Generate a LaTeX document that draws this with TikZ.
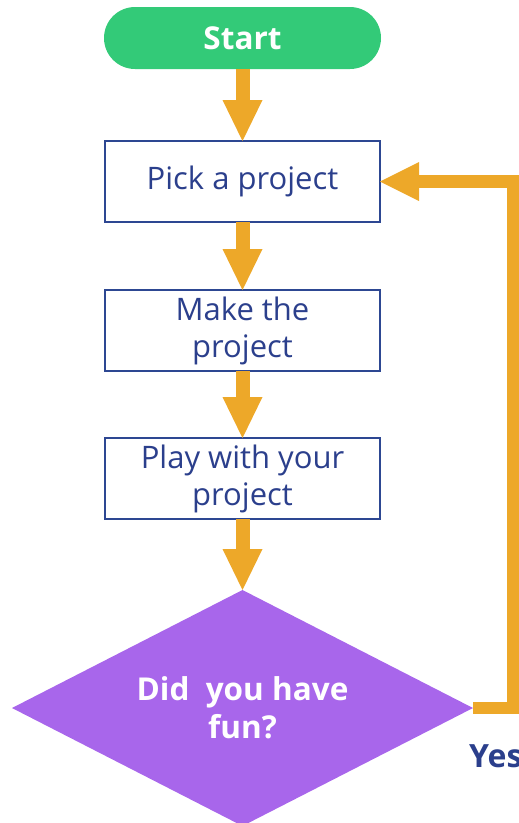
\documentclass[tikz,border=0pt]{standalone}
\usepackage{fontspec}
\setmainfont{Open Sans}
\usepackage{xcolor}
\usepackage{tikz}
\usetikzlibrary{shapes.geometric, arrows.meta, positioning}

\definecolor{startgreen}{HTML}{33CA78}
\definecolor{funpurple}{HTML}{A866EB}
\definecolor{arroworange}{HTML}{EDA829}
\definecolor{boxblue}{HTML}{2D4792}
\definecolor{textblue}{HTML}{2B3F8C}

\begin{document}
\begin{tikzpicture}[x=1pt, y=1pt,
  terminal/.style={rectangle, rounded corners=31pt, fill=startgreen, text=white, font=\fontsize{31.5}{38}\selectfont\bfseries, minimum width=277pt, minimum height=62pt, inner sep=0pt, outer sep=0pt},
  process/.style={rectangle, draw=boxblue, line width=2pt, text=textblue, font=\fontsize{31}{37}\selectfont, align=center, minimum width=275pt, minimum height=81pt, inner sep=0pt, outer sep=0pt},
  decision/.style={diamond, aspect=2, fill=funpurple, text=white, font=\fontsize{31.5}{38}\selectfont\bfseries, align=center, minimum width=461pt, minimum height=236pt, inner sep=0pt, outer sep=0pt},
  flowarrow/.style={arroworange, line width=14pt, -{Triangle[width=40pt, length=41pt, line width=0pt]}},
  backarrow/.style={arroworange, line width=12.5pt, line join=miter, -{Triangle[width=39pt, length=39pt, line width=0pt]}}]
\useasboundingbox (0,0) rectangle (519,-823);
\node (start) [terminal] at (242.5,-38) {Start};
\node (pick) [process, below=72pt of start] {Pick a project};
\node (make) [process, below=68pt of pick] {Make the\\project};
\node (play) [process, below=67pt of make] {Play with your\\project};
\node (fun) [decision, below=71pt of play] {Did~ you have\\fun?};
\node (yes) [anchor=base west, inner sep=0pt, text=textblue, font=\fontsize{32}{38}\selectfont\bfseries] at ([shift={(-4,-59)}]fun.east) {Yes};
\draw [flowarrow] (start) -- (pick);
\draw [flowarrow] (pick) -- (make);
\draw [flowarrow] (make) -- (play);
\draw [flowarrow] (play) -- (fun);
\draw [backarrow] (fun.east) -- ++(40,0) |- (pick.east);
\end{tikzpicture}
\end{document}
